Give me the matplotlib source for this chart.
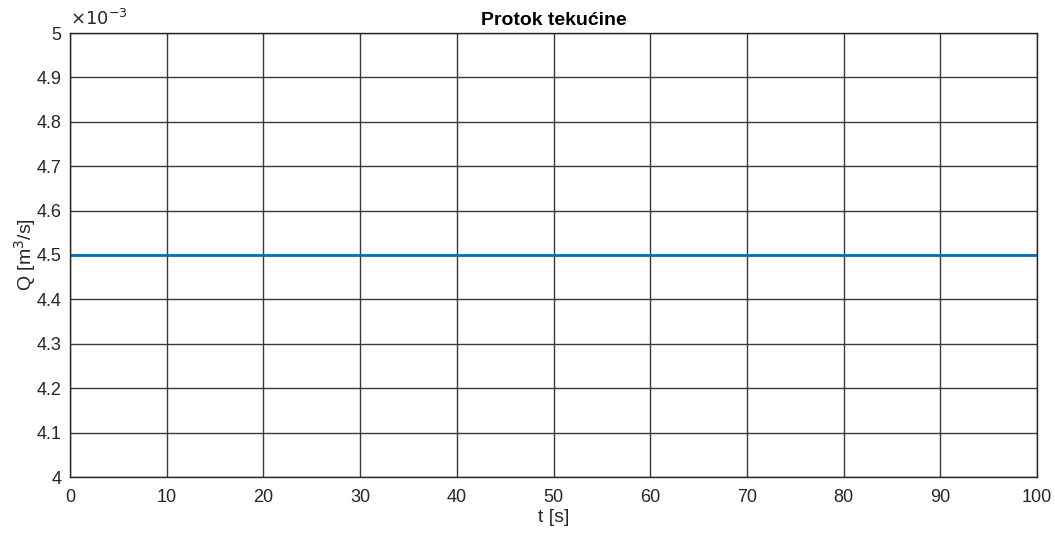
import matplotlib

matplotlib.use("Agg")
import matplotlib.pyplot as plt
from matplotlib.ticker import FuncFormatter

t = [0, 100]
Q = [4.5e-3, 4.5e-3]
x_ticks = list(range(0, 101, 10))
y_ticks = [4.0e-3 + i * 0.1e-3 for i in range(11)]

plt.rcParams["font.family"] = ["Liberation Sans", "DejaVu Sans"]

fig = plt.figure(figsize=(10.55, 5.33), dpi=100)
ax = fig.add_axes([70 / 1055, 1 - 477 / 533, 967 / 1055, 444 / 533])

ax.plot(t, Q, color="#0072BD", lw=2)
ax.set_xlim(0, 100)
ax.set_ylim(4e-3, 5e-3)
ax.set_xticks(x_ticks)
ax.set_yticks(y_ticks)
ax.yaxis.set_major_formatter(FuncFormatter(lambda v, _: f"{v * 1e3:g}"))
ax.grid(True, color="#3a3a3a", lw=1)
ax.set_axisbelow(True)
for s in ax.spines.values():
    s.set_color("#262626")
    s.set_linewidth(1)
ax.tick_params(direction="in", length=0, labelsize=13, colors="#262626")
ax.tick_params(axis="x", pad=9)
ax.tick_params(axis="y", pad=6)

ax.text(0.0, 1.008, r"$\times10^{-3}$", transform=ax.transAxes,
        fontsize=13, color="#262626", va="bottom", ha="left")
ax.set_title("Protok tekućine", fontsize=14, fontweight="bold", pad=6)
ax.set_xlabel("t [s]", fontsize=14, color="#262626", labelpad=2)
ax.set_ylabel(r"Q [m$^3$/s]", fontsize=14, color="#262626", labelpad=-1)

fig.savefig("out.png", dpi=100)
